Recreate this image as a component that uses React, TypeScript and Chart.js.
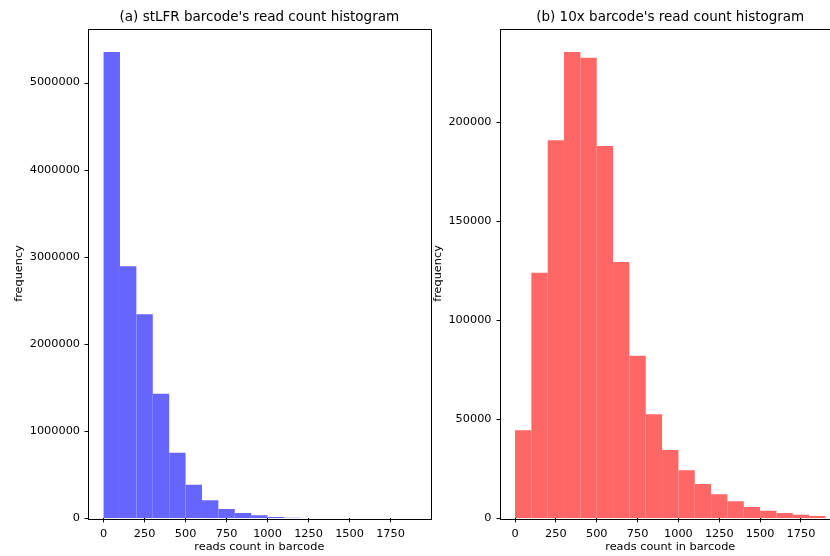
import React, { useEffect, useRef } from 'react';
import { Chart, registerables } from 'chart.js';

Chart.register(...registerables);

const binStarts = [0, 100, 200, 300, 400, 500, 600, 700, 800, 900, 1000, 1100, 1200, 1300, 1400, 1500, 1600, 1700, 1800];
const binWidth = 100;
const stlfrCounts = [5350000, 2893000, 2342000, 1430000, 753000, 386000, 207000, 107000, 61000, 34000, 15000, 7000, 600, 250, 100, 40, 15, 6, 2];
const tenxCounts = [44400, 124000, 190900, 235400, 232500, 187900, 129400, 82000, 52500, 34500, 24200, 17300, 12100, 8600, 5700, 3800, 2700, 1800, 1200];
const xTicks = [0, 250, 500, 750, 1000, 1250, 1500, 1750];
const stlfrYTicks = [0, 1000000, 2000000, 3000000, 4000000, 5000000];
const tenxYTicks = [0, 50000, 100000, 150000, 200000];

const FONT = "'DejaVu Sans', sans-serif";
const H = 556;

interface PanelProps {
  left: number;
  width: number;
  counts: number[];
  yTicks: number[];
  color: string;
  title: string;
  yAxisWidth: number;
  padRight: number;
  ylabelX: number;
}

function Panel(p: PanelProps) {
  const ref = useRef<HTMLCanvasElement | null>(null);
  useEffect(() => {
    if (!ref.current) return;
    const xmin = binStarts[0];
    const xmax = binStarts[binStarts.length - 1] + binWidth;
    const xm = (xmax - xmin) * 0.05;
    const ymax = Math.max(...p.counts) * 1.05;
    const textPlugin = {
      id: 'mplText',
      afterDraw(chart: any) {
        const { ctx, chartArea } = chart;
        const { left, right, top, bottom } = chartArea;
        const yScale = chart.scales.y;
        ctx.save();
        ctx.strokeStyle = '#000';
        ctx.lineWidth = 1;
        ctx.strokeRect(Math.round(left) + 0.5, Math.round(top) + 0.5, Math.round(right - left), Math.round(bottom - top));
        const lx = Math.round(left) + 0.5;
        ctx.beginPath();
        p.yTicks.forEach((v) => {
          const py = Math.round(yScale.getPixelForValue(v)) + 0.5;
          ctx.moveTo(lx - 4, py);
          ctx.lineTo(lx, py);
        });
        ctx.stroke();
        ctx.fillStyle = '#000';
        ctx.textAlign = 'center';
        ctx.textBaseline = 'middle';
        ctx.font = `13.5px ${FONT}`;
        ctx.fillText(p.title, (left + right) / 2, 17);
        ctx.font = `11.3px ${FONT}`;
        ctx.fillText('reads count in barcode', (left + right) / 2, 547.5);
        ctx.translate(p.ylabelX, (top + bottom) / 2);
        ctx.rotate(-Math.PI / 2);
        ctx.fillText('frequency', 0, 0);
        ctx.restore();
      },
    };
    const chart = new Chart(ref.current, {
      type: 'bar',
      data: {
        datasets: [
          {
            data: binStarts.map((s, i) => ({ x: s + binWidth / 2, y: p.counts[i] })),
            backgroundColor: p.color,
            borderWidth: 0,
            inflateAmount: 0,
            barPercentage: 1,
            categoryPercentage: 1,
          },
        ],
      },
      options: {
        responsive: false,
        animation: false,
        devicePixelRatio: 1,
        layout: { padding: { top: 28.7, left: 0, right: p.padRight, bottom: 0 } },
        plugins: { legend: { display: false }, tooltip: { enabled: false }, title: { display: false } },
        scales: {
          x: {
            type: 'linear',
            min: xmin - xm,
            max: xmax + xm,
            offset: false,
            afterFit: (s: any) => { s.height = H - 518.3; },
            afterBuildTicks: (s: any) => { s.ticks = xTicks.map((v) => ({ value: v })); },
            grid: { display: true, drawOnChartArea: false, drawTicks: true, tickLength: 4, color: '#000', offset: false },
            border: { display: false },
            ticks: { color: '#000', font: { family: FONT, size: 11.3 }, padding: 5, maxRotation: 0, autoSkip: false, callback: (v: any) => String(v) },
          },
          y: {
            type: 'linear',
            min: 0,
            max: ymax,
            afterFit: (s: any) => { s.width = p.yAxisWidth; },
            afterBuildTicks: (s: any) => { s.ticks = p.yTicks.map((v) => ({ value: v })); },
            grid: { display: true, drawOnChartArea: false, drawTicks: true, tickLength: 4, color: '#000', lineWidth: 0 },
            border: { display: false },
            ticks: { color: '#000', font: { family: FONT, size: 11.3 }, padding: 4, autoSkip: false, callback: (v: any) => String(v) },
          },
        },
      },
      plugins: [textPlugin],
    } as any);
    return () => chart.destroy();
  }, []);
  return (
    <canvas
      ref={ref}
      width={p.width}
      height={H}
      style={{ position: 'absolute', left: p.left, top: 0, width: p.width, height: H }}
    />
  );
}

export default function App() {
  return (
    <div style={{ position: 'fixed', left: 0, top: 0, width: 830, height: 556, overflow: 'hidden', background: '#fff' }}>
      <Panel
        left={0}
        width={450}
        counts={stlfrCounts}
        yTicks={stlfrYTicks}
        color="rgb(102,102,255)"
        title="(a) stLFR barcode's read count histogram"
        yAxisWidth={88}
        padRight={19.3}
        ylabelX={19.5}
      />
      <Panel
        left={430}
        width={420}
        counts={tenxCounts}
        yTicks={tenxYTicks}
        color="rgb(255,102,102)"
        title="(b) 10x barcode's read count histogram"
        yAxisWidth={69.5}
        padRight={9}
        ylabelX={8.3}
      />
    </div>
  );
}
